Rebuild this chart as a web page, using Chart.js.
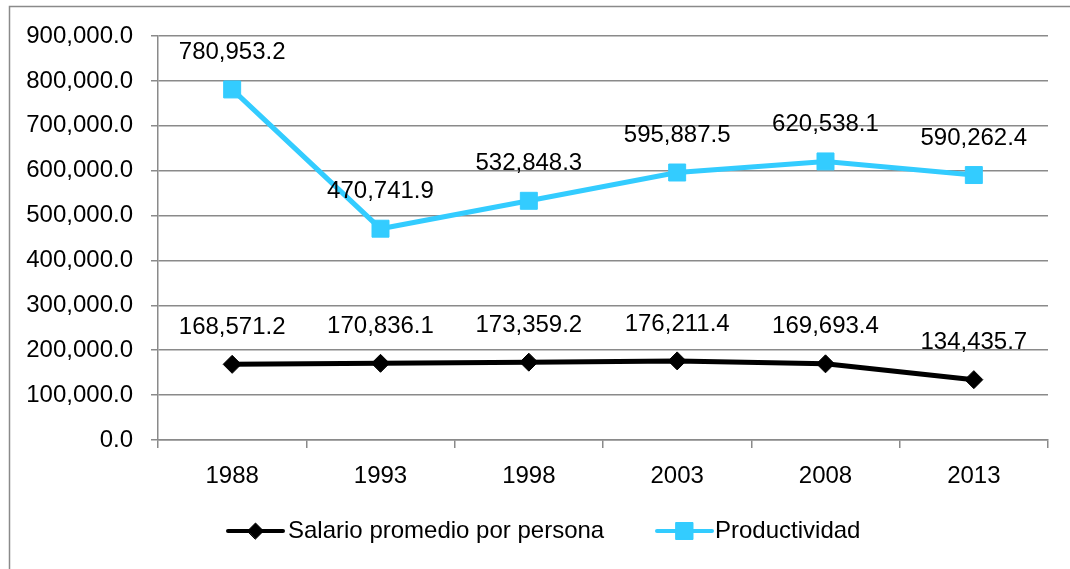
<!DOCTYPE html>
<html>
<head>
<meta charset="utf-8">
<script src="https://cdn.jsdelivr.net/npm/chart.js@4.4.1/dist/chart.umd.min.js"></script>
<style>
  html, body { margin: 0; padding: 0; background: #fff; }
  #wrap { position: relative; width: 1070px; height: 569px; }
</style>
</head>
<body>
<div id="wrap"><canvas id="c" width="1070" height="569"></canvas></div>
<script>
const categories = ['1988', '1993', '1998', '2003', '2008', '2013'];
const salarioLabel = 'Salario promedio por persona';
const salarioValues = [168571.2, 170836.1, 173359.2, 176211.4, 169693.4, 134435.7];
const productividadLabel = 'Productividad';
const productividadValues = [780953.2, 470741.9, 532848.3, 595887.5, 620538.1, 590262.4];
const yTicks = [0, 100000, 200000, 300000, 400000, 500000, 600000, 700000, 800000, 900000];

const FONT = '"Liberation Sans", Arial, sans-serif';
const fmt = v => v.toLocaleString('en-US', { minimumFractionDigits: 1, maximumFractionDigits: 1 });

const framePlugin = {
  id: 'frame',
  beforeDraw(chart) {
    const ctx = chart.ctx;
    ctx.save();
    ctx.strokeStyle = '#8a8a8a';
    ctx.lineWidth = 1.5;
    ctx.beginPath();
    ctx.moveTo(9.5, 600);
    ctx.lineTo(9.5, 6.5);
    ctx.lineTo(1100, 6.5);
    ctx.stroke();
    ctx.restore();
  }
};

const labelPlugin = {
  id: 'dataLabels',
  afterDatasetsDraw(chart) {
    const ctx = chart.ctx;
    ctx.save();
    ctx.font = '24px ' + FONT;
    ctx.fillStyle = '#000';
    ctx.textAlign = 'center';
    ctx.textBaseline = 'middle';
    chart.data.datasets.forEach((ds, i) => {
      const meta = chart.getDatasetMeta(i);
      meta.data.forEach((pt, j) => {
        ctx.fillText(fmt(ds.data[j]), pt.x, pt.y - 37);
      });
    });
    ctx.restore();
  }
};

const legendPlugin = {
  id: 'customLegend',
  afterDraw(chart) {
    const ctx = chart.ctx;
    const y = 531;
    const items = [
      { ds: 0, x1: 228, x2: 283, tx: 288, r: 8 },
      { ds: 1, x1: 657, x2: 712, tx: 715, r: 12 }
    ];
    ctx.save();
    items.forEach(it => {
      const ds = chart.data.datasets[it.ds];
      ctx.strokeStyle = ds.borderColor;
      ctx.lineWidth = 4;
      ctx.lineCap = 'round';
      ctx.beginPath();
      ctx.moveTo(it.x1, y);
      ctx.lineTo(it.x2, y);
      ctx.stroke();
      ctx.fillStyle = ds.pointBackgroundColor;
      ctx.strokeStyle = ds.pointBorderColor;
      ctx.lineWidth = 1;
      Chart.helpers.drawPoint(ctx, { pointStyle: ds.pointStyle, radius: it.r, borderWidth: 1 }, (it.x1 + it.x2) / 2, y);
      ctx.fillStyle = '#000';
      ctx.font = '24px ' + FONT;
      ctx.textAlign = 'left';
      ctx.textBaseline = 'middle';
      ctx.fillText(ds.label, it.tx, y);
    });
    ctx.restore();
  }
};

new Chart(document.getElementById('c'), {
  type: 'line',
  data: {
    labels: categories,
    datasets: [
      {
        label: salarioLabel,
        data: salarioValues,
        borderColor: '#000000',
        backgroundColor: '#000000',
        borderWidth: 5,
        pointStyle: 'rectRot',
        pointRadius: 9,
        pointHoverRadius: 9,
        pointBackgroundColor: '#000000',
        pointBorderColor: '#000000',
        pointBorderWidth: 1,
        tension: 0
      },
      {
        label: productividadLabel,
        data: productividadValues,
        borderColor: '#33CCFF',
        backgroundColor: '#33CCFF',
        borderWidth: 5,
        pointStyle: 'rect',
        pointRadius: 12,
        pointHoverRadius: 12,
        pointBackgroundColor: '#33CCFF',
        pointBorderColor: '#33CCFF',
        pointBorderWidth: 1,
        tension: 0
      }
    ]
  },
  options: {
    responsive: false,
    animation: false,
    events: [],
    layout: { padding: { top: 36, right: 22, left: 0, bottom: 0 } },
    plugins: {
      legend: { display: false },
      tooltip: { enabled: false }
    },
    scales: {
      x: {
        type: 'category',
        offset: true,
        grid: {
          offset: true,
          drawOnChartArea: false,
          drawTicks: true,
          tickLength: 8,
          color: '#8a8a8a',
          lineWidth: 1.5
        },
        border: { display: true, color: '#8a8a8a', width: 1.5 },
        ticks: {
          color: '#000',
          font: { family: FONT, size: 24 },
          padding: 14,
          maxRotation: 0
        },
        afterFit(scale) { scale.height = 569 - 440; }
      },
      y: {
        min: 0,
        max: 900000,
        afterBuildTicks(scale) { scale.ticks = yTicks.map(v => ({ value: v })); },
        grid: {
          color: '#8a8a8a',
          lineWidth: 1.5,
          drawTicks: true,
          tickLength: 7
        },
        border: { display: true, color: '#8a8a8a', width: 1.5 },
        ticks: {
          color: '#000',
          font: { family: FONT, size: 24 },
          padding: 18,
          callback: v => fmt(v)
        },
        afterFit(scale) { scale.width = 158; }
      }
    }
  },
  plugins: [framePlugin, labelPlugin, legendPlugin]
});
</script>
</body>
</html>
